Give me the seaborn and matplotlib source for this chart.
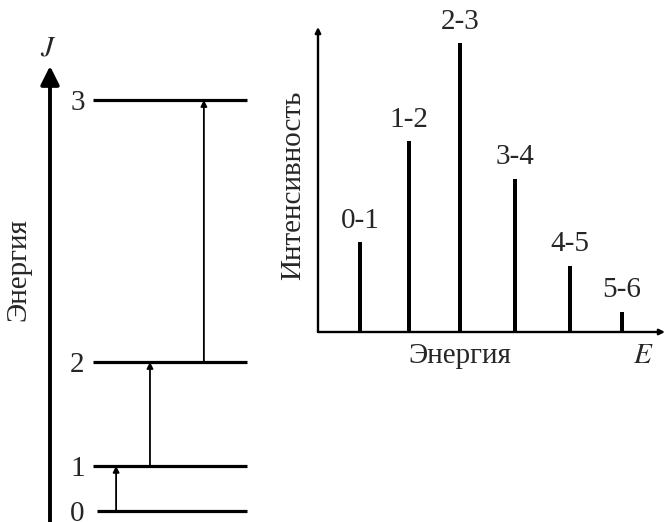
import matplotlib
matplotlib.use("Agg")
import matplotlib.pyplot as plt
import seaborn as sns
import pandas as pd

# energy levels (left diagram), arbitrary units
level_J = ["0", "1", "2", "3"]
level_energy = [0.0, 1.0, 3.3, 9.1]
arrow_x = [0.15, 0.37, 0.72]          # where the transition arrows sit along the level lines

# spectrum (right)
trans_labels = ["0-1", "1-2", "2-3", "3-4", "4-5", "5-6"]
trans_energy = [0.84, 1.82, 2.84, 3.94, 5.04, 6.08]
intensity = [31, 66, 100, 53, 23, 7]

sns.set_theme(style="white")
plt.rcParams["font.family"] = ["Liberation Serif", "DejaVu Serif"]
plt.rcParams["mathtext.fontset"] = "stix"
fs = 21

W, H = 667, 522
fig = plt.figure(figsize=(W / 100, H / 100), dpi=100)

# ---------------- left: level diagram
ax1 = fig.add_axes([93 / W, 11 / H, 154 / W, 411 / H])
ax1.set_xlim(0, 1)
ax1.set_ylim(level_energy[0], level_energy[-1])
for i, e in enumerate(level_energy):
    x0 = 0.026 if i == 0 else 0.0
    ax1.hlines(e, x0, 1, color="black", lw=2.3, clip_on=False)
for i, x in enumerate(arrow_x):
    ax1.annotate("", xy=(x, level_energy[i + 1]), xytext=(x, level_energy[i]),
                 arrowprops=dict(arrowstyle="-|>", color="black", lw=1.3,
                                 mutation_scale=9, shrinkA=0, shrinkB=0))
ax1.set_yticks(level_energy, level_J)
ax1.set_xticks([])
ax1.tick_params(axis="y", length=0, pad=6, labelsize=fs)
sns.despine(ax=ax1, left=True, bottom=True)

# big energy arrow + its labels
fig.add_artist(matplotlib.patches.FancyArrowPatch(
    (50 / W, 0.0), (50 / W, 1 - 66 / H), transform=fig.transFigure,
    arrowstyle="-|>", mutation_scale=28, lw=2.8, color="black", shrinkA=0, shrinkB=0))
fig.text(48 / W, 1 - 48 / H, "$J$", ha="center", va="center", fontsize=fs)
fig.text(18 / W, 1 - 270 / H, "Энергия", rotation=90, ha="center", va="center", fontsize=fs)

# ---------------- right: spectrum
ax2 = fig.add_axes([318 / W, 190 / H, 347 / W, 305 / H])
df = pd.DataFrame({"E": trans_energy, "I": intensity})
sns.barplot(data=df, x="E", y="I", native_scale=True, width=0.07,
            color="black", linewidth=0, saturation=1, ax=ax2)
ax2.set_xlim(0, 6.94)
ax2.set_ylim(0, 105.5)
for x, y, lab in zip(trans_energy, intensity, trans_labels):
    ax2.annotate(lab, (x, y), xytext=(0, 6), textcoords="offset points",
                 ha="center", va="bottom", fontsize=fs)
ax2.set_xticks([])
ax2.set_yticks([])
ax2.set_xlabel("")
ax2.set_ylabel("")
for s in ax2.spines.values():
    s.set_visible(False)
ax2.annotate("", xy=(0, 1), xytext=(0, 0), xycoords="axes fraction",
             arrowprops=dict(arrowstyle="-|>", color="black", lw=1.7,
                             mutation_scale=8, shrinkA=0, shrinkB=0))
ax2.annotate("", xy=(1.0, 0), xytext=(0, 0), xycoords="axes fraction",
             arrowprops=dict(arrowstyle="-|>", color="black", lw=1.7,
                             mutation_scale=8, shrinkA=0, shrinkB=0))
fig.text(460 / W, 1 - 356 / H, "Энергия", ha="center", va="center", fontsize=fs)
fig.text(643 / W, 1 - 356 / H, "$E$", ha="center", va="center", fontsize=fs)
fig.text(293 / W, 1 - 185 / H, "Интенсивность", rotation=90, ha="center", va="center", fontsize=fs)

fig.savefig("out.png", dpi=100, facecolor="white")
